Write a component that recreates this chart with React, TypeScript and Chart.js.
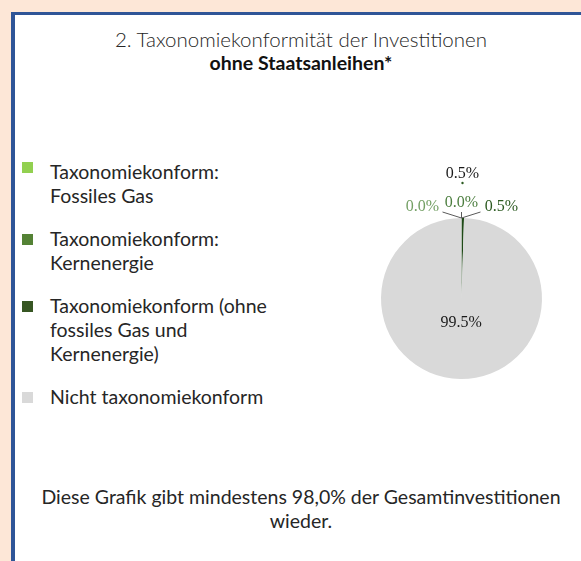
import React, { useEffect, useRef } from "react";
import { Chart, registerables } from "chart.js";

Chart.register(...registerables);

const titleLine1 = "2. Taxonomiekonformität der Investitionen";
const titleLine2 = "ohne Staatsanleihen*";
const footerText = "Diese Grafik gibt mindestens 98,0% der Gesamtinvestitionen wieder.";

const categories = [
  "Taxonomiekonform: Fossiles Gas",
  "Taxonomiekonform: Kernenergie",
  "Taxonomiekonform (ohne fossiles Gas und Kernenergie)",
  "Nicht taxonomiekonform",
];
const legendLines = [
  ["Taxonomiekonform:", "Fossiles Gas"],
  ["Taxonomiekonform:", "Kernenergie"],
  ["Taxonomiekonform (ohne", "fossiles Gas und", "Kernenergie)"],
  ["Nicht taxonomiekonform"],
];
const values = [0.0, 0.0, 0.5, 99.5];
const valueLabels = ["0.0%", "0.0%", "0.5%", "99.5%"];
const sliceColors = ["#92d050", "#548235", "#1f4a17", "#d9d9d9"];
const legendColors = ["#92d050", "#548235", "#375623", "#d9d9d9"];
const labelColors = ["#74a065", "#4c7e3f", "#2c5a21", "#1a1a1a"];

const textFont = 'Lato, "Open Sans", sans-serif';
const textColor = "#262626";

const calloutOffsets: Record<number, { line: [number, number]; text: [number, number] }> = {
  0: { line: [-19, -6], text: [-39, -11] },
  1: { line: [0, -6], text: [0, -15] },
  2: { line: [19, -6], text: [40, -11] },
};

const labelPlugin = {
  id: "sliceLabels",
  afterDatasetsDraw(chart: any) {
    const ctx = chart.ctx;
    const meta = chart.getDatasetMeta(0);
    ctx.save();
    ctx.font = '16px "Liberation Serif", "Times New Roman", serif';
    ctx.textAlign = "center";
    ctx.textBaseline = "middle";
    meta.data.forEach((arc: any, i: number) => {
      const p = arc.getProps(["x", "y", "startAngle", "endAngle", "outerRadius"], true);
      const mid = (p.startAngle + p.endAngle) / 2;
      const text = valueLabels[i];
      if (values[i] >= 5) {
        const d = p.outerRadius * 0.3;
        ctx.fillStyle = labelColors[i];
        ctx.fillText(text, p.x + Math.cos(mid) * d, p.y + Math.sin(mid) * d);
      } else {
        const ax = p.x + Math.cos(p.startAngle) * p.outerRadius;
        const ay = p.y + Math.sin(p.startAngle) * p.outerRadius;
        const off = calloutOffsets[i];
        ctx.strokeStyle = "#5a5a5a";
        ctx.lineWidth = 1;
        ctx.beginPath();
        ctx.moveTo(ax, ay);
        ctx.lineTo(ax + off.line[0], ay + off.line[1]);
        ctx.stroke();
        ctx.fillStyle = labelColors[i];
        ctx.fillText(text, ax + off.text[0], ay + off.text[1]);
        if (i === 2) {
          ctx.fillStyle = "#1a1a1a";
          ctx.fillText(text, ax + 1, ay - 44);
          ctx.fillStyle = "#2c5a21";
          ctx.beginPath();
          ctx.arc(ax + 1, ay - 35, 1.2, 0, Math.PI * 2);
          ctx.fill();
        }
      }
    });
    ctx.restore();
  },
};

function PieChart() {
  const ref = useRef<HTMLCanvasElement | null>(null);
  useEffect(() => {
    if (!ref.current) return;
    const chart = new Chart(ref.current, {
      type: "pie",
      data: {
        labels: categories,
        datasets: [
          {
            data: values,
            backgroundColor: sliceColors,
            borderWidth: 0,
          },
        ],
      },
      options: {
        responsive: false,
        animation: false,
        layout: { padding: { top: 70, left: 20, right: 20, bottom: 20 } },
        plugins: { legend: { display: false }, tooltip: { enabled: false } },
      },
      plugins: [labelPlugin],
    });
    return () => chart.destroy();
  }, []);
  return (
    <canvas
      ref={ref}
      width={201}
      height={251}
      style={{ position: "absolute", left: 361, top: 148, width: 201, height: 251 }}
    />
  );
}

export default function App() {
  return (
    <div
      style={{
        position: "fixed",
        left: 0,
        top: 0,
        width: 581,
        height: 561,
        overflow: "hidden",
        background: "#fde7d7",
        fontFamily: textFont,
        color: textColor,
      }}
    >
      <div
        style={{
          position: "absolute",
          left: 11,
          top: 12,
          width: 600,
          height: 600,
          borderLeft: "4px solid #2f5597",
          borderTop: "3px solid #2f5597",
          background: "#ffffff",
        }}
      />
      <div
        style={{
          position: "absolute",
          left: 15,
          width: 572,
          top: 27,
          textAlign: "center",
          lineHeight: "24px",
        }}
      >
        <div style={{ fontWeight: 300, fontSize: 20.5 }}>{titleLine1}</div>
        <div style={{ fontWeight: 700, fontSize: 19.5, color: "#111" }}>{titleLine2}</div>
      </div>
      <div style={{ position: "absolute", left: 22, top: 160 }}>
        {legendLines.map((lines, i) => (
          <div key={i} style={{ display: "flex", alignItems: "flex-start", marginBottom: 19 }}>
            <div
              style={{
                width: 11,
                height: 11,
                marginTop: i === 0 ? 2 : 7,
                background: legendColors[i],
                flex: "none",
              }}
            />
            <div style={{ marginLeft: 17, fontSize: 19.5, lineHeight: "24px", fontWeight: 400 }}>
              {lines.map((l, j) => (
                <div key={j}>{l}</div>
              ))}
            </div>
          </div>
        ))}
      </div>
      <PieChart />
      <div
        style={{
          position: "absolute",
          left: 30,
          width: 542,
          top: 485,
          textAlign: "center",
          fontSize: 19.5,
          lineHeight: "24px",
          fontWeight: 400,
        }}
      >
        {footerText}
      </div>
    </div>
  );
}
